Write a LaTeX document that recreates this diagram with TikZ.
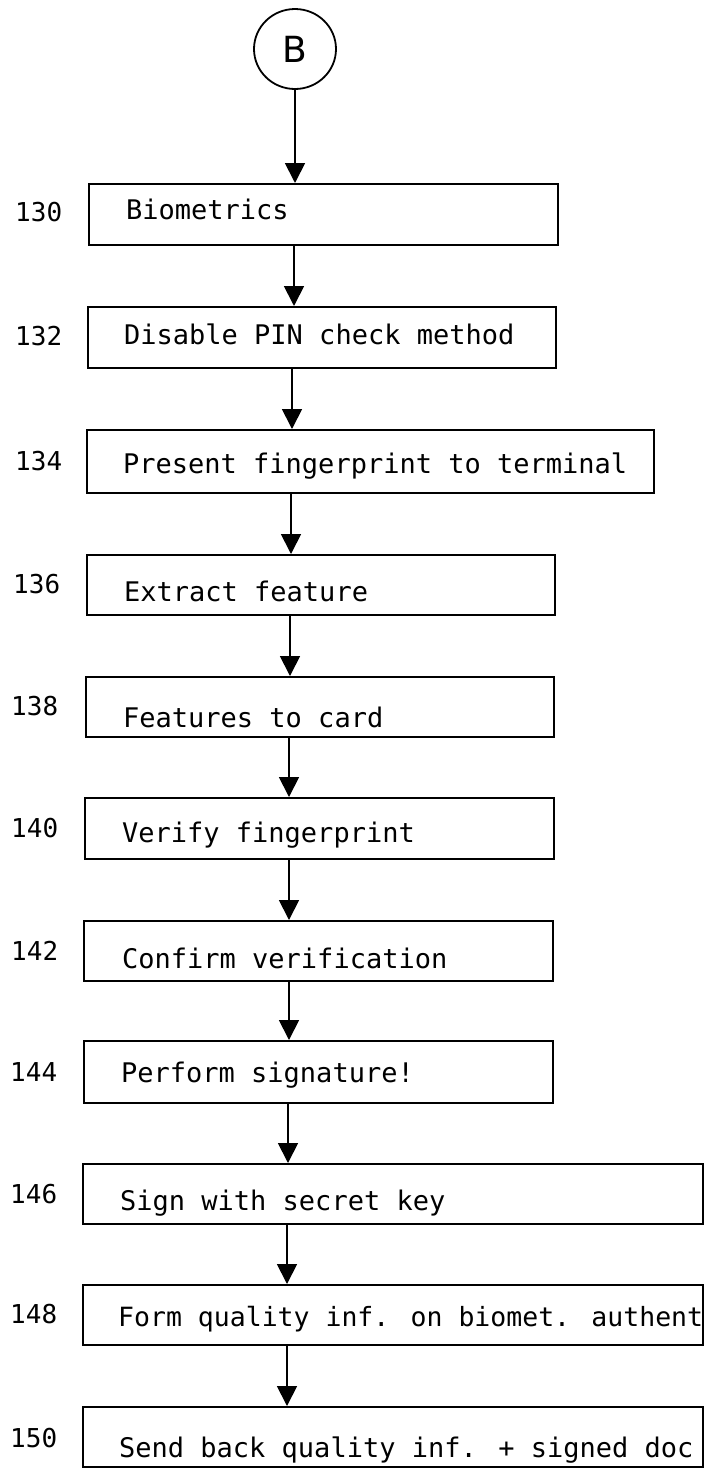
\documentclass[tikz,border=0pt]{standalone}
\usepackage{fontspec}
\newfontfamily\monof{DejaVu Sans Mono}
\newfontfamily\sansf{DejaVu Sans}
\usetikzlibrary{arrows.meta,shapes.geometric}
\begin{document}
\begin{tikzpicture}[x=1pt,y=-1pt,
  box/.style={draw,line width=2pt,rectangle,inner sep=0pt,anchor=north west},
  txt/.style={anchor=base west,inner sep=0pt,font=\monof\fontsize{27}{30}\selectfont},
  lbl/.style={anchor=base west,inner sep=0pt,font=\monof\fontsize{26}{30}\selectfont},
  arr/.style={line width=1.8pt,-{Triangle[length=20pt,width=20pt]}}]
\useasboundingbox (0,0) rectangle (706,1468);
\fill[white] (0,0) rectangle (706,1468);

\node[draw,ellipse,line width=1.8pt,minimum width=82pt,minimum height=80pt,inner sep=0pt,
      font=\sansf\fontsize{36}{40}\selectfont] (cB) at (295,49) {B};

\foreach \n/\l/\t/\r/\b/\tx/\ty/\lx/\ly/\s in {
  130/88/183/557/244/126/219/15/221/Biometrics,
  132/87/306/555/367/124/344/15/345/Disable PIN check method,
  134/86/429/653/492/123/473/15/470/Present fingerprint to terminal,
  136/86/554/554/614/124/601/13/593/Extract feature,
  138/85/676/553/736/123/727/11/715/Features to card,
  140/84/797/553/858/122/842/11/837/Verify fingerprint,
  142/83/920/552/980/122/968/11/960/Confirm verification,
  144/83/1040/552/1102/121/1082/10/1081/Perform signature!,
  146/82/1163/702/1223/120/1210/10/1203/Sign with secret key,
  150/82/1406/702/1466/119/1457/10/1447/Send back quality inf. + signed doc}
{
  \pgfmathsetmacro\w{\r-\l}
  \pgfmathsetmacro\h{\b-\t}
  \node[box,minimum width=\w pt,minimum height=\h pt] (b\n) at (\l,\t) {};
  \node[txt] (t\n) at (\tx,\ty) {\s};
  \node[lbl] (l\n) at (\lx,\ly) {\n};
}
% box 148: its text nearly fills the box
\node[box,minimum width=620pt,minimum height=60pt] (b148) at (82,1284) {};
\node[txt,font=\monof\fontsize{26.5}{30}\selectfont] (t148) at (118,1326)
  {Form quality inf. on biomet. authent};
\node[lbl] (l148) at (10,1323) {148};

\draw[arr] (cB.south) -- (b130.north -| cB.south);
\foreach \a/\c/\x in {130/132/294,132/134/292,134/136/291,136/138/290,
  138/140/289,140/142/289,142/144/289,144/146/288,146/148/287,148/150/287}
{
  \draw[arr] (b\a.south -| \x,0) -- (b\c.north -| \x,0);
}
\end{tikzpicture}
\end{document}
